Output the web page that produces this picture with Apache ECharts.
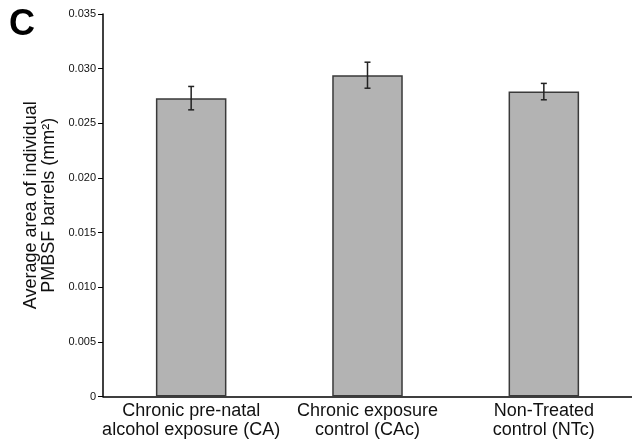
<!DOCTYPE html>
<html><head><meta charset="utf-8">
<script src="https://cdn.jsdelivr.net/npm/echarts@6/dist/echarts.min.js"></script>
<style>html,body{margin:0;padding:0;background:#fff}#c{width:632px;height:443px}</style>
</head><body><div id="c"></div>
<script>
var categories = ['Chronic pre-natal\nalcohol exposure (CA)', 'Chronic exposure\ncontrol (CAc)', 'Non-Treated\ncontrol (NTc)'];
var means = [0.0273, 0.0294, 0.0279];
var errors = [0.00107, 0.00119, 0.00075];
var yTicks = [0, 0.005, 0.010, 0.015, 0.020, 0.025, 0.030, 0.035];

var chart = echarts.init(document.getElementById('c'), null, {renderer: 'canvas'});
var font = 'Liberation Sans, Arial, Helvetica, sans-serif';
chart.setOption({
  animation: false,
  backgroundColor: '#fff',
  graphic: [{type: 'text', left: 9, top: 7, style: {text: 'C', font: 'bold 36px ' + font, fill: '#000'}}],
  grid: {left: 103, right: 0, top: 14, bottom: 46.5},
  xAxis: {
    type: 'category', data: categories,
    axisLine: {lineStyle: {color: '#000', width: 1.5}},
    axisTick: {show: false},
    axisLabel: {color: '#111', fontSize: 18, fontFamily: font, lineHeight: 19, margin: 5, interval: 0}
  },
  yAxis: {
    type: 'value', min: 0, max: 0.035, interval: 0.005,
    name: 'Average area of individual\nPMBSF barrels (mm²)',
    nameLocation: 'middle', nameGap: 45, nameRotate: 90,
    nameTextStyle: {color: '#111', fontSize: 18, fontFamily: font, lineHeight: 18},
    axisLine: {show: true, lineStyle: {color: '#000', width: 1.5}},
    axisTick: {show: true, length: 5, lineStyle: {color: '#000'}},
    splitLine: {show: false},
    axisLabel: {color: '#111', fontSize: 11, fontFamily: font, margin: 7,
      formatter: function (v) { return v === 0 ? '0' : v.toFixed(3); }}
  },
  series: [{
    type: 'bar', data: means, barWidth: '40%',
    itemStyle: {color: '#b3b3b3', borderColor: '#3a3a3a', borderWidth: 1.5}
  }, {
    type: 'custom',
    data: means.map(function (m, i) { return [i, m - errors[i], m + errors[i]]; }),
    renderItem: function (params, api) {
      var lo = api.coord([api.value(0), api.value(1)]);
      var hi = api.coord([api.value(0), api.value(2)]);
      var w = 3;
      var st = {stroke: '#222', lineWidth: 1.5};
      return {type: 'group', children: [
        {type: 'line', shape: {x1: lo[0], y1: lo[1], x2: hi[0], y2: hi[1]}, style: st},
        {type: 'line', shape: {x1: lo[0] - w, y1: lo[1], x2: lo[0] + w, y2: lo[1]}, style: st},
        {type: 'line', shape: {x1: hi[0] - w, y1: hi[1], x2: hi[0] + w, y2: hi[1]}, style: st}
      ]};
    },
    z: 10
  }]
});
</script></body></html>
